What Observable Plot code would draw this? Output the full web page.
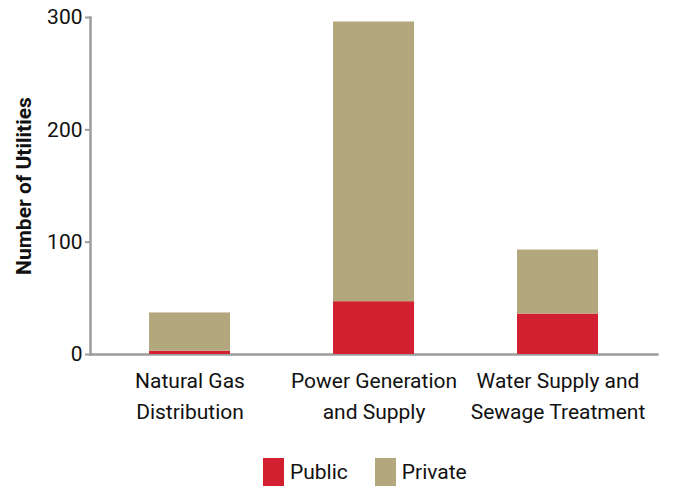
<!DOCTYPE html>
<html>
<head>
<meta charset="utf-8">
<script src="https://cdn.jsdelivr.net/npm/d3@7"></script>
<script src="https://cdn.jsdelivr.net/npm/@observablehq/plot@0.6"></script>
<style>
  body { margin: 0; background: #fff; font-family: "Roboto", sans-serif; }
  #legend { display: flex; justify-content: flex-start; padding-left: 263px; margin-top: 8px; font-size: 21px; color: #111; }
  #legend .item { display: flex; align-items: center; margin-right: 27px; }
  #legend .sw { width: 21px; height: 28px; margin-right: 6px; }
</style>
</head>
<body>
<div id="chart"></div>
<div id="legend"></div>
<script>
const categories = ["Natural Gas\nDistribution", "Power Generation\nand Supply", "Water Supply and\nSewage Treatment"];
const seriesNames = ["Public", "Private"];
const publicValues = [3, 47, 36];
const privateValues = [34, 249, 57];
const colors = ["#D22030", "#B3A77E"];
const yTicks = [0, 100, 200, 300];

const data = [];
categories.forEach((c, i) => {
  data.push({category: c, series: "Public", value: publicValues[i]});
  data.push({category: c, series: "Private", value: privateValues[i]});
});

const font = "Roboto, sans-serif";
const chart = Plot.plot({
  width: 689,
  height: 450,
  marginLeft: 90,
  marginRight: 32,
  marginTop: 17,
  marginBottom: 96,
  style: {fontFamily: font, fontSize: "21px", color: "#111", background: "#fff"},
  x: {domain: categories, paddingInner: 0.56, paddingOuter: 0.32},
  y: {domain: [0, 300]},
  color: {domain: seriesNames, range: colors},
  marks: [
    Plot.frame({anchor: "bottom", stroke: "#9c9c9c", strokeWidth: 2.5}),
    Plot.frame({anchor: "left", stroke: "#9c9c9c", strokeWidth: 2.5}),
    Plot.barY(data, {x: "category", y: "value", fill: "series", order: seriesNames}),
    Plot.axisX({tickSize: 0, tickPadding: 12, lineHeight: 1.45, label: null, fontSize: 21, fill: "#111"}),
    Plot.axisY({ticks: yTicks, tickSize: 5, tickPadding: 3, stroke: "#9c9c9c", strokeWidth: 2, label: null, fontSize: 21, fill: "#111"}),
    Plot.axisY({ticks: [], label: "Number of Utilities", labelAnchor: "center", labelArrow: "none", labelOffset: 74, fontWeight: "bold", fontSize: 21, fill: "#111"})
  ]
});
document.getElementById("chart").appendChild(chart);

const legend = d3.select("#legend");
seriesNames.forEach((s, i) => {
  const it = legend.append("div").attr("class", "item");
  it.append("div").attr("class", "sw").style("background", colors[i]);
  it.append("span").text(s);
});
</script>
</body>
</html>
